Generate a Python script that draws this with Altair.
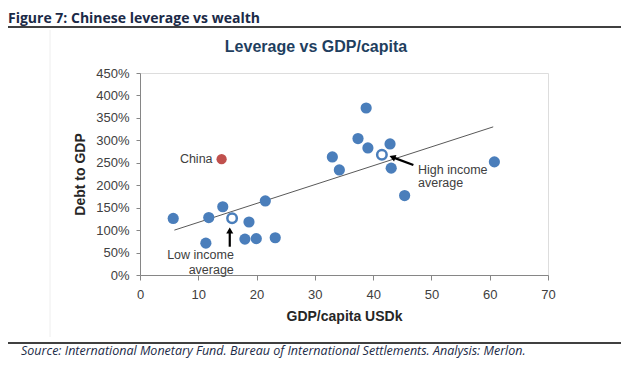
import altair as alt
import pandas as pd

# ---- data ----
gdp_capita = [5.7, 11.3, 11.8, 14.2, 18.7, 18.0, 19.95, 21.5, 23.2, 33.0, 34.2, 37.4, 38.8, 39.1, 42.9, 43.1, 45.4, 60.8]
debt_to_gdp = [126, 71, 128, 152, 118, 80, 81, 165, 83, 263, 234, 304, 372, 283, 292, 238, 177, 252]

china_x = [14.0]
china_y = [258]

avg_names = ["Low income average", "High income average"]
avg_x = [15.8, 41.5]
avg_y = [126.5, 268]

trend_x = [5.9, 60.6]
trend_y = [100, 330]

x_ticks = [0, 10, 20, 30, 40, 50, 60, 70]
y_ticks = [0, 50, 100, 150, 200, 250, 300, 350, 400, 450]

labels_right = ["China", "Low income", "average"]
labels_right_x = [12.45, 16.1, 16.1]
labels_right_y = [258, 44.5, 11.1]

labels_left = ["High income", "average"]
labels_left_x = [47.7, 47.7]
labels_left_y = [234, 204]

# arrows: tail -> tip
arrow_x = [15.4, 46.9]
arrow_y = [63, 245]
arrow_x2 = [15.4, 43.4]
arrow_y2 = [97, 262]
head_x = [15.4, 43.3]
head_y = [99, 262.5]
head_angle = [0, 290]

FONT = "Liberation Sans"
BLUE = "#4A7EBB"
RED = "#C0504D"

xs = alt.Scale(domain=[0, 70], nice=False, zero=False, padding=0)
ys = alt.Scale(domain=[0, 450], nice=False, padding=0)

xaxis = alt.Axis(values=x_ticks, grid=False, title="GDP/capita USDk", domainColor="#868686",
                 tickColor="#868686", tickSize=5, labelFont=FONT, labelFontSize=13,
                 labelColor="#404040", labelPadding=8, labelOverlap=False, labelFlush=False,
                 titleFont=FONT, titleFontSize=14,
                 titleFontWeight="bold", titleColor="#262626", titlePadding=8)
yaxis = alt.Axis(values=y_ticks, grid=False, title="Debt to GDP",
                 labelExpr="datum.value + '%'", domainColor="#868686", tickColor="#868686",
                 tickSize=4, labelFont=FONT, labelFontSize=13, labelColor="#404040",
                 labelPadding=7, labelOverlap=False, labelFlush=False,
                 titleFont=FONT, titleFontSize=14,
                 titleFontWeight="bold", titleColor="#262626", titlePadding=8)


def X():
    return alt.X("x:Q", scale=xs, axis=xaxis)


def Y():
    return alt.Y("y:Q", scale=ys, axis=yaxis)


pts = pd.DataFrame({"x": gdp_capita, "y": debt_to_gdp})
china = pd.DataFrame({"x": china_x, "y": china_y})
avgs = pd.DataFrame({"name": avg_names, "x": avg_x, "y": avg_y})
trend = pd.DataFrame({"x": trend_x, "y": trend_y})
lr = pd.DataFrame({"t": labels_right, "x": labels_right_x, "y": labels_right_y})
ll = pd.DataFrame({"t": labels_left, "x": labels_left_x, "y": labels_left_y})
arrows = pd.DataFrame({"x": arrow_x, "y": arrow_y, "x2": arrow_x2, "y2": arrow_y2})
heads = pd.DataFrame({"x": head_x, "y": head_y, "a": head_angle})

trend_line = alt.Chart(trend).mark_line(color="#595959", strokeWidth=1).encode(x=X(), y=Y())

blue_pts = alt.Chart(pts).mark_point(filled=True, shape="circle", size=125, color=BLUE, opacity=1).encode(
    x=X(), y=Y())

china_pt = alt.Chart(china).mark_point(filled=True, shape="circle", size=105, color=RED, opacity=1).encode(
    x=X(), y=Y())

avg_pts = alt.Chart(avgs).mark_point(filled=True, shape="circle", size=90, fill="white",
                                     stroke=BLUE, strokeWidth=2.5, opacity=1).encode(x=X(), y=Y())

arrow_lines = alt.Chart(arrows).mark_rule(color="black", strokeWidth=2.2).encode(
    x=X(), y=Y(), x2="x2:Q", y2="y2:Q")

arrow_heads = alt.Chart(heads).mark_point(shape="triangle-up", filled=True, size=50, color="black", opacity=1).encode(
    x=X(), y=Y(), angle=alt.Angle("a:Q", scale=None))

txt_r = alt.Chart(lr).mark_text(align="right", baseline="middle", font=FONT, fontSize=12.5, color="#404040").encode(
    x=X(), y=Y(), text="t:N")

txt_l = alt.Chart(ll).mark_text(align="left", baseline="middle", font=FONT, fontSize=12.5, color="#404040").encode(
    x=X(), y=Y(), text="t:N")

one = pd.DataFrame({"k": [0]})

fig_title = alt.Chart(one).mark_text(align="left", baseline="top", font="Open Sans",
                                     fontSize=14, fontWeight="bold", color="#1B2A47").encode(
    x=alt.value(-132), y=alt.value(-61), text=alt.value("Figure 7: Chinese leverage vs wealth"))

top_rule = alt.Chart(one).mark_rule(color="black", strokeWidth=1.5).encode(
    x=alt.value(-132), x2=alt.value(482), y=alt.value(-46))

frame_line = alt.Chart(one).mark_rule(color="#EEEEEE", strokeWidth=1).encode(
    x=alt.value(-90), y=alt.value(-43), y2=alt.value(264))

chart_title = alt.Chart(one).mark_text(align="center", baseline="middle", font=FONT,
                                       fontSize=16, fontWeight="bold", color="#1F3F5F").encode(
    x=alt.value(176), y=alt.value(-26), text=alt.value("Leverage vs GDP/capita"))

bottom_rule = alt.Chart(one).mark_rule(color="black", strokeWidth=1.5).encode(
    x=alt.value(-132), x2=alt.value(482), y=alt.value(270))

source = alt.Chart(one).mark_text(align="left", baseline="alphabetic", font="Open Sans",
                                  fontSize=12.5, fontStyle="italic", color="#1B2A47").encode(
    x=alt.value(-119), y=alt.value(282),
    text=alt.value("Source: International Monetary Fund. Bureau of International Settlements. Analysis: Merlon."))

chart = alt.layer(
    trend_line, blue_pts, china_pt, avg_pts, arrow_lines, arrow_heads, txt_r, txt_l,
    fig_title, top_rule, frame_line, chart_title, bottom_rule, source
).properties(
    width=408, height=202,
    autosize=alt.AutoSizeParams(type="none"),
    padding={"left": 132, "top": 65, "right": 73, "bottom": 86},
).configure_view(stroke=None).configure(background="white")

chart.save("out.html", embed_options={"renderer": "svg", "actions": False})
